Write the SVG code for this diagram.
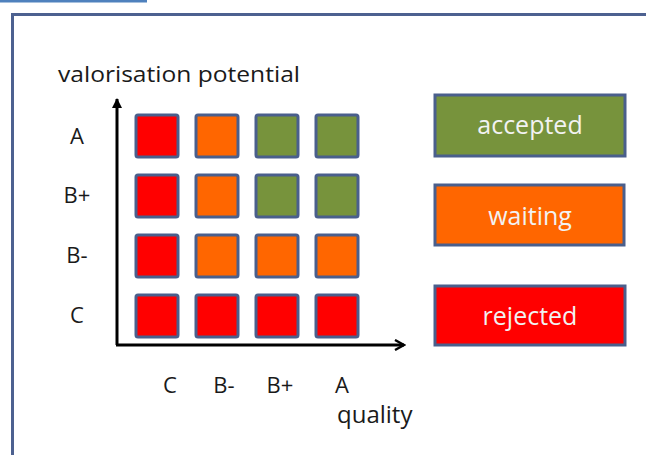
<svg xmlns="http://www.w3.org/2000/svg" width="646" height="455" viewBox="0 0 646 455">
<defs>
<style>
.t{font-family:"Open Sans","Liberation Sans",sans-serif;fill:#1a1a1a;font-size:22px}
.lg{font-family:"Open Sans","Liberation Sans",sans-serif;fill:#f2f2f2;font-size:25px;text-anchor:middle}
.sq{stroke:#4a5f8c;stroke-width:3}
.r{fill:#ff0000}.o{fill:#ff6600}.g{fill:#77933c}
.ax{stroke:#000;stroke-width:3;fill:none}
</style>
<marker id="arr" viewBox="0 0 12 12" refX="10" refY="6" markerWidth="12" markerHeight="12" markerUnits="userSpaceOnUse" orient="auto">
<path d="M1,1 L10,6 L1,11" fill="none" stroke="#000" stroke-width="2.4"/>
</marker>
<marker id="arrf" viewBox="0 0 12 12" refX="10" refY="6" markerWidth="12" markerHeight="12" markerUnits="userSpaceOnUse" orient="auto">
<path d="M1,1 L11,6 L1,11 Z" fill="#000"/>
</marker>
</defs>
<rect x="0" y="0" width="147" height="2.5" fill="#4f81bd"/>
<rect x="12.5" y="14.5" width="660" height="470" fill="#fff" stroke="#4d6190" stroke-width="3"/>
<g id="connectors">
<line class="ax" x1="117" y1="345" x2="117" y2="99" marker-end="url(#arrf)"/>
<line class="ax" x1="116" y1="345" x2="404" y2="345" marker-end="url(#arr)"/>
</g>
<g id="grid">
<rect class="sq r" x="136" y="115" width="42" height="42" rx="2"/>
<rect class="sq o" x="196" y="115" width="42" height="42" rx="2"/>
<rect class="sq g" x="256" y="115" width="42" height="42" rx="2"/>
<rect class="sq g" x="316" y="115" width="42" height="42" rx="2"/>
<rect class="sq r" x="136" y="175" width="42" height="42" rx="2"/>
<rect class="sq o" x="196" y="175" width="42" height="42" rx="2"/>
<rect class="sq g" x="256" y="175" width="42" height="42" rx="2"/>
<rect class="sq g" x="316" y="175" width="42" height="42" rx="2"/>
<rect class="sq r" x="136" y="235" width="42" height="42" rx="2"/>
<rect class="sq o" x="196" y="235" width="42" height="42" rx="2"/>
<rect class="sq o" x="256" y="235" width="42" height="42" rx="2"/>
<rect class="sq o" x="316" y="235" width="42" height="42" rx="2"/>
<rect class="sq r" x="136" y="295" width="42" height="42" rx="2"/>
<rect class="sq r" x="196" y="295" width="42" height="42" rx="2"/>
<rect class="sq r" x="256" y="295" width="42" height="42" rx="2"/>
<rect class="sq r" x="316" y="295" width="42" height="42" rx="2"/>
</g>
<g id="labels">
<text class="t" x="58" y="82" textLength="242" lengthAdjust="spacingAndGlyphs">valorisation potential</text>
<text class="t" x="77" y="144" text-anchor="middle">A</text>
<text class="t" x="77" y="203" text-anchor="middle">B+</text>
<text class="t" x="77" y="263" text-anchor="middle">B-</text>
<text class="t" x="77" y="323" text-anchor="middle">C</text>
<text class="t" x="170" y="393" text-anchor="middle">C</text>
<text class="t" x="224" y="393" text-anchor="middle">B-</text>
<text class="t" x="280" y="393" text-anchor="middle">B+</text>
<text class="t" x="342" y="393" text-anchor="middle">A</text>
<text class="t" x="337" y="423" style="font-size:24px">quality</text>
</g>
<g id="accepted">
<rect class="sq g" x="435" y="95" width="190" height="61"/>
<text class="lg" x="530" y="134">accepted</text>
</g>
<g id="waiting">
<rect class="sq o" x="435" y="185" width="189" height="60"/>
<text class="lg" x="530" y="225">waiting</text>
</g>
<g id="rejected">
<rect class="sq r" x="435" y="286" width="190" height="59"/>
<text class="lg" x="530" y="325">rejected</text>
</g>
</svg>
